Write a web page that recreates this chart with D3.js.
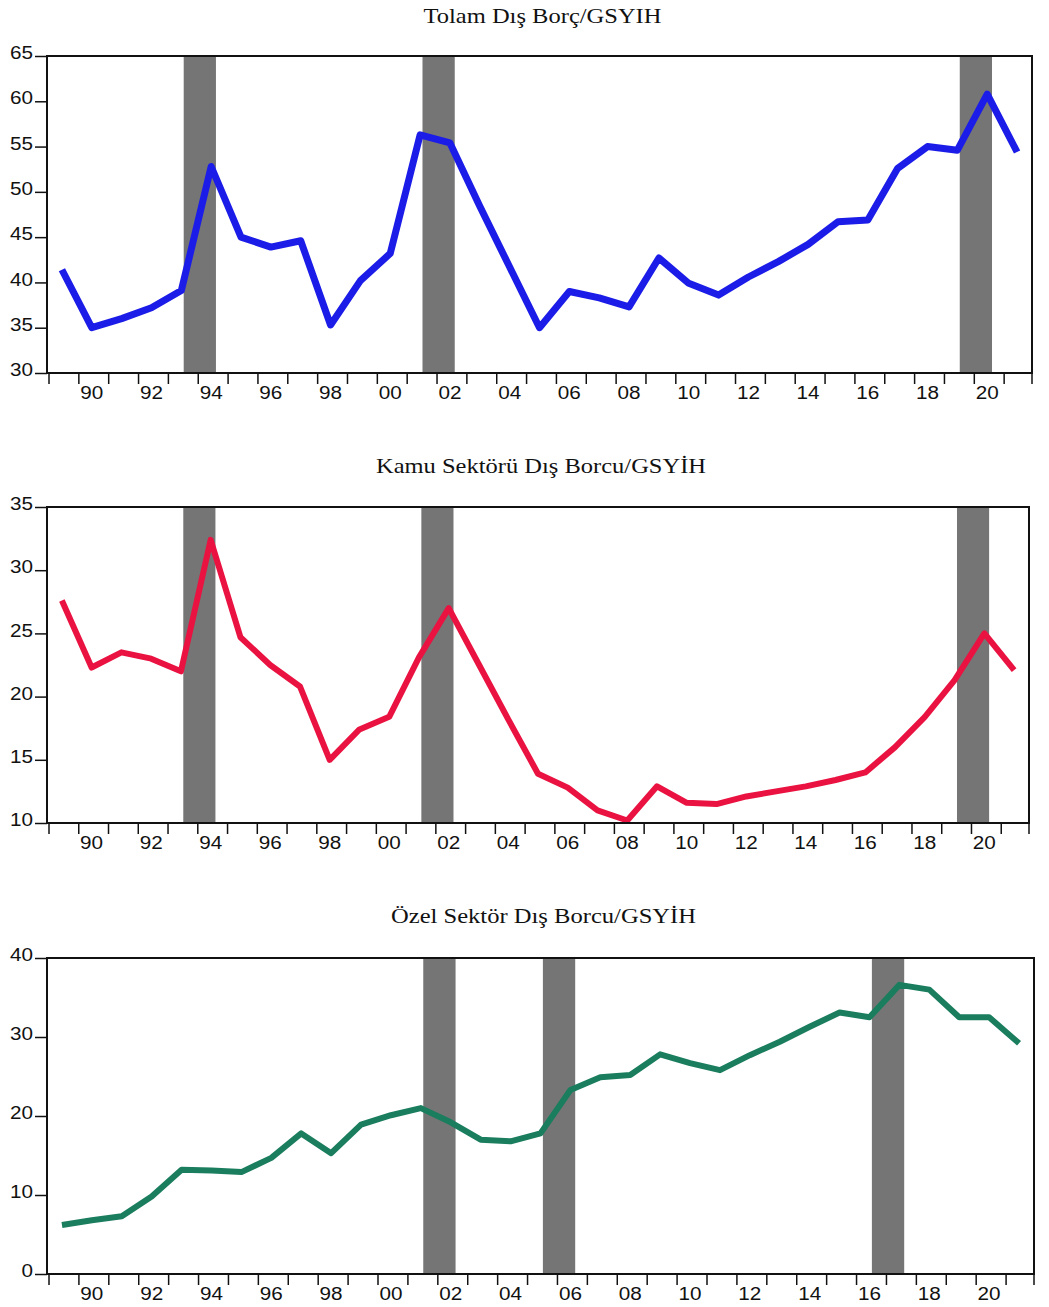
<!DOCTYPE html>
<html>
<head>
<meta charset="utf-8">
<script src="https://cdn.jsdelivr.net/npm/d3@7/dist/d3.min.js"></script>
<style>
  html, body { margin: 0; padding: 0; background: #fff; }
  svg { display: block; }
</style>
</head>
<body>
<svg id="chart" width="1049" height="1307"></svg>
<script>
// ---------------- DATA ----------------
const years = [1989,1990,1991,1992,1993,1994,1995,1996,1997,1998,1999,2000,2001,2002,2003,2004,2005,
               2006,2007,2008,2009,2010,2011,2012,2013,2014,2015,2016,2017,2018,2019,2020,2021];

const totalDebt = [41.4,35.0,36.0,37.2,39.1,52.8,45.0,43.9,44.6,35.3,40.2,43.2,56.3,55.4,48.4,41.7,35.0,
                   39.0,38.3,37.3,42.7,39.9,38.6,40.6,42.3,44.2,46.7,46.9,52.6,55.0,54.6,60.8,54.4];

const publicDebt = [27.6,22.3,23.5,23.0,22.0,32.4,24.7,22.5,20.8,15.0,17.4,18.4,23.1,27.0,22.6,18.2,13.9,
                    12.8,11.0,10.2,12.9,11.6,11.5,12.1,12.5,12.9,13.4,14.0,16.0,18.4,21.3,25.0,22.1];

const privateDebt = [6.2,6.8,7.3,9.8,13.2,13.1,12.9,14.7,17.8,15.3,18.9,20.1,21.0,19.2,17.0,16.8,17.8,
                     23.3,24.9,25.2,27.8,26.7,25.8,27.7,29.4,31.3,33.1,32.5,36.6,36.0,32.5,32.5,29.2];

const titles = ["Tolam Dış Borç/GSYIH", "Kamu Sektörü Dış Borcu/GSYİH", "Özel Sektör Dış Borcu/GSYİH"];

const shadeTotal   = [[1993,1994],[2001,2002],[2019,2020]];
const shadePublic  = [[1993,1994],[2001,2002],[2019,2020]];
const shadePrivate = [[2001,2002],[2005,2006],[2016,2017]];

const yTicksTotal   = [30,35,40,45,50,55,60,65];
const yTicksPublic  = [10,15,20,25,30,35];
const yTicksPrivate = [0,10,20,30,40];

const xLabelYears = [1990,1992,1994,1996,1998,2000,2002,2004,2006,2008,2010,2012,2014,2016,2018,2020];
const xLabels     = ["90","92","94","96","98","00","02","04","06","08","10","12","14","16","18","20"];

// ---------------- LAYOUT / STYLE ----------------
const panels = [
  { title: titles[0], values: totalDebt,   shades: shadeTotal,   yTicks: yTicksTotal,
    color: "#1c1ce8", width: 7, top: 56,  bottom: 373,  left: 47, right: 1032, titleY: 23, titleLen: 238 },
  { title: titles[1], values: publicDebt,  shades: shadePublic,  yTicks: yTicksPublic,
    color: "#ea1240", width: 6, top: 507, bottom: 823,  left: 47, right: 1029, titleY: 473, titleLen: 330 },
  { title: titles[2], values: privateDebt, shades: shadePrivate, yTicks: yTicksPrivate,
    color: "#1a7d5d", width: 6, top: 958, bottom: 1274, left: 47, right: 1034, titleY: 923, titleLen: 305 }
];

const svg = d3.select("#chart");

panels.forEach(p => {
  const g = svg.append("g");

  const x = d3.scaleBand().domain(years).range([p.left, p.right]).padding(0);
  const bw = x.bandwidth();
  const xc = yr => x(yr) + bw / 2;
  const y = d3.scaleLinear()
    .domain([p.yTicks[0], p.yTicks[p.yTicks.length - 1]])
    .range([p.bottom, p.top]);

  // title
  g.append("text")
    .attr("x", (p.left + p.right) / 2 + 3)
    .attr("y", p.titleY)
    .attr("text-anchor", "middle")
    .attr("font-family", "'Liberation Serif', 'Times New Roman', serif")
    .attr("font-size", 21)
    .attr("textLength", p.titleLen)
    .attr("lengthAdjust", "spacingAndGlyphs")
    .attr("fill", "#111")
    .text(p.title);

  // shaded periods
  g.selectAll("rect.shade").data(p.shades).enter().append("rect")
    .attr("class", "shade")
    .attr("x", d => xc(d[0]) + 0.08 * bw)
    .attr("y", p.top)
    .attr("width", d => xc(d[1]) - xc(d[0]) + 0.08 * bw)
    .attr("height", p.bottom - p.top)
    .attr("fill", "#757575");

  // line
  const line = d3.line()
    .x((d, i) => xc(years[i]))
    .y(d => y(d));
  g.append("path")
    .datum(p.values)
    .attr("d", line)
    .attr("fill", "none")
    .attr("stroke", p.color)
    .attr("stroke-width", p.width)
    .attr("stroke-linejoin", "round")
    .attr("stroke-linecap", "butt");

  // frame
  g.append("rect")
    .attr("x", p.left).attr("y", p.top)
    .attr("width", p.right - p.left).attr("height", p.bottom - p.top)
    .attr("fill", "none").attr("stroke", "#111").attr("stroke-width", 2);

  // y axis
  const yAxis = d3.axisLeft(y).tickValues(p.yTicks).tickSize(12).tickPadding(2)
    .tickFormat(d3.format("d"));
  const ya = g.append("g").attr("transform", `translate(${p.left},0)`).call(yAxis);
  ya.select(".domain").remove();
  ya.selectAll(".tick line").attr("stroke", "#111").attr("stroke-width", 1.5);
  ya.selectAll(".tick text")
    .attr("font-family", "'Liberation Sans', Arial, sans-serif")
    .attr("font-size", 18)
    .attr("fill", "#111")
    .attr("dy", "0.15em")
    .attr("textLength", function(d) { return String(d).length * 11.5; })
    .attr("lengthAdjust", "spacingAndGlyphs");

  // x ticks at year boundaries
  const bounds = years.map(yr => x(yr) + 2).concat([p.right]);
  g.selectAll("line.xt").data(bounds).enter().append("line")
    .attr("class", "xt")
    .attr("x1", d => d).attr("x2", d => d)
    .attr("y1", p.bottom).attr("y2", p.bottom + 11)
    .attr("stroke", "#111").attr("stroke-width", 1.5);

  // x labels
  g.selectAll("text.xl").data(xLabelYears).enter().append("text")
    .attr("class", "xl")
    .attr("x", d => xc(d))
    .attr("y", p.bottom + 26)
    .attr("text-anchor", "middle")
    .attr("font-family", "'Liberation Sans', Arial, sans-serif")
    .attr("font-size", 18)
    .attr("fill", "#111")
    .attr("textLength", 23)
    .attr("lengthAdjust", "spacingAndGlyphs")
    .text((d, i) => xLabels[i]);
});
</script>
</body>
</html>
